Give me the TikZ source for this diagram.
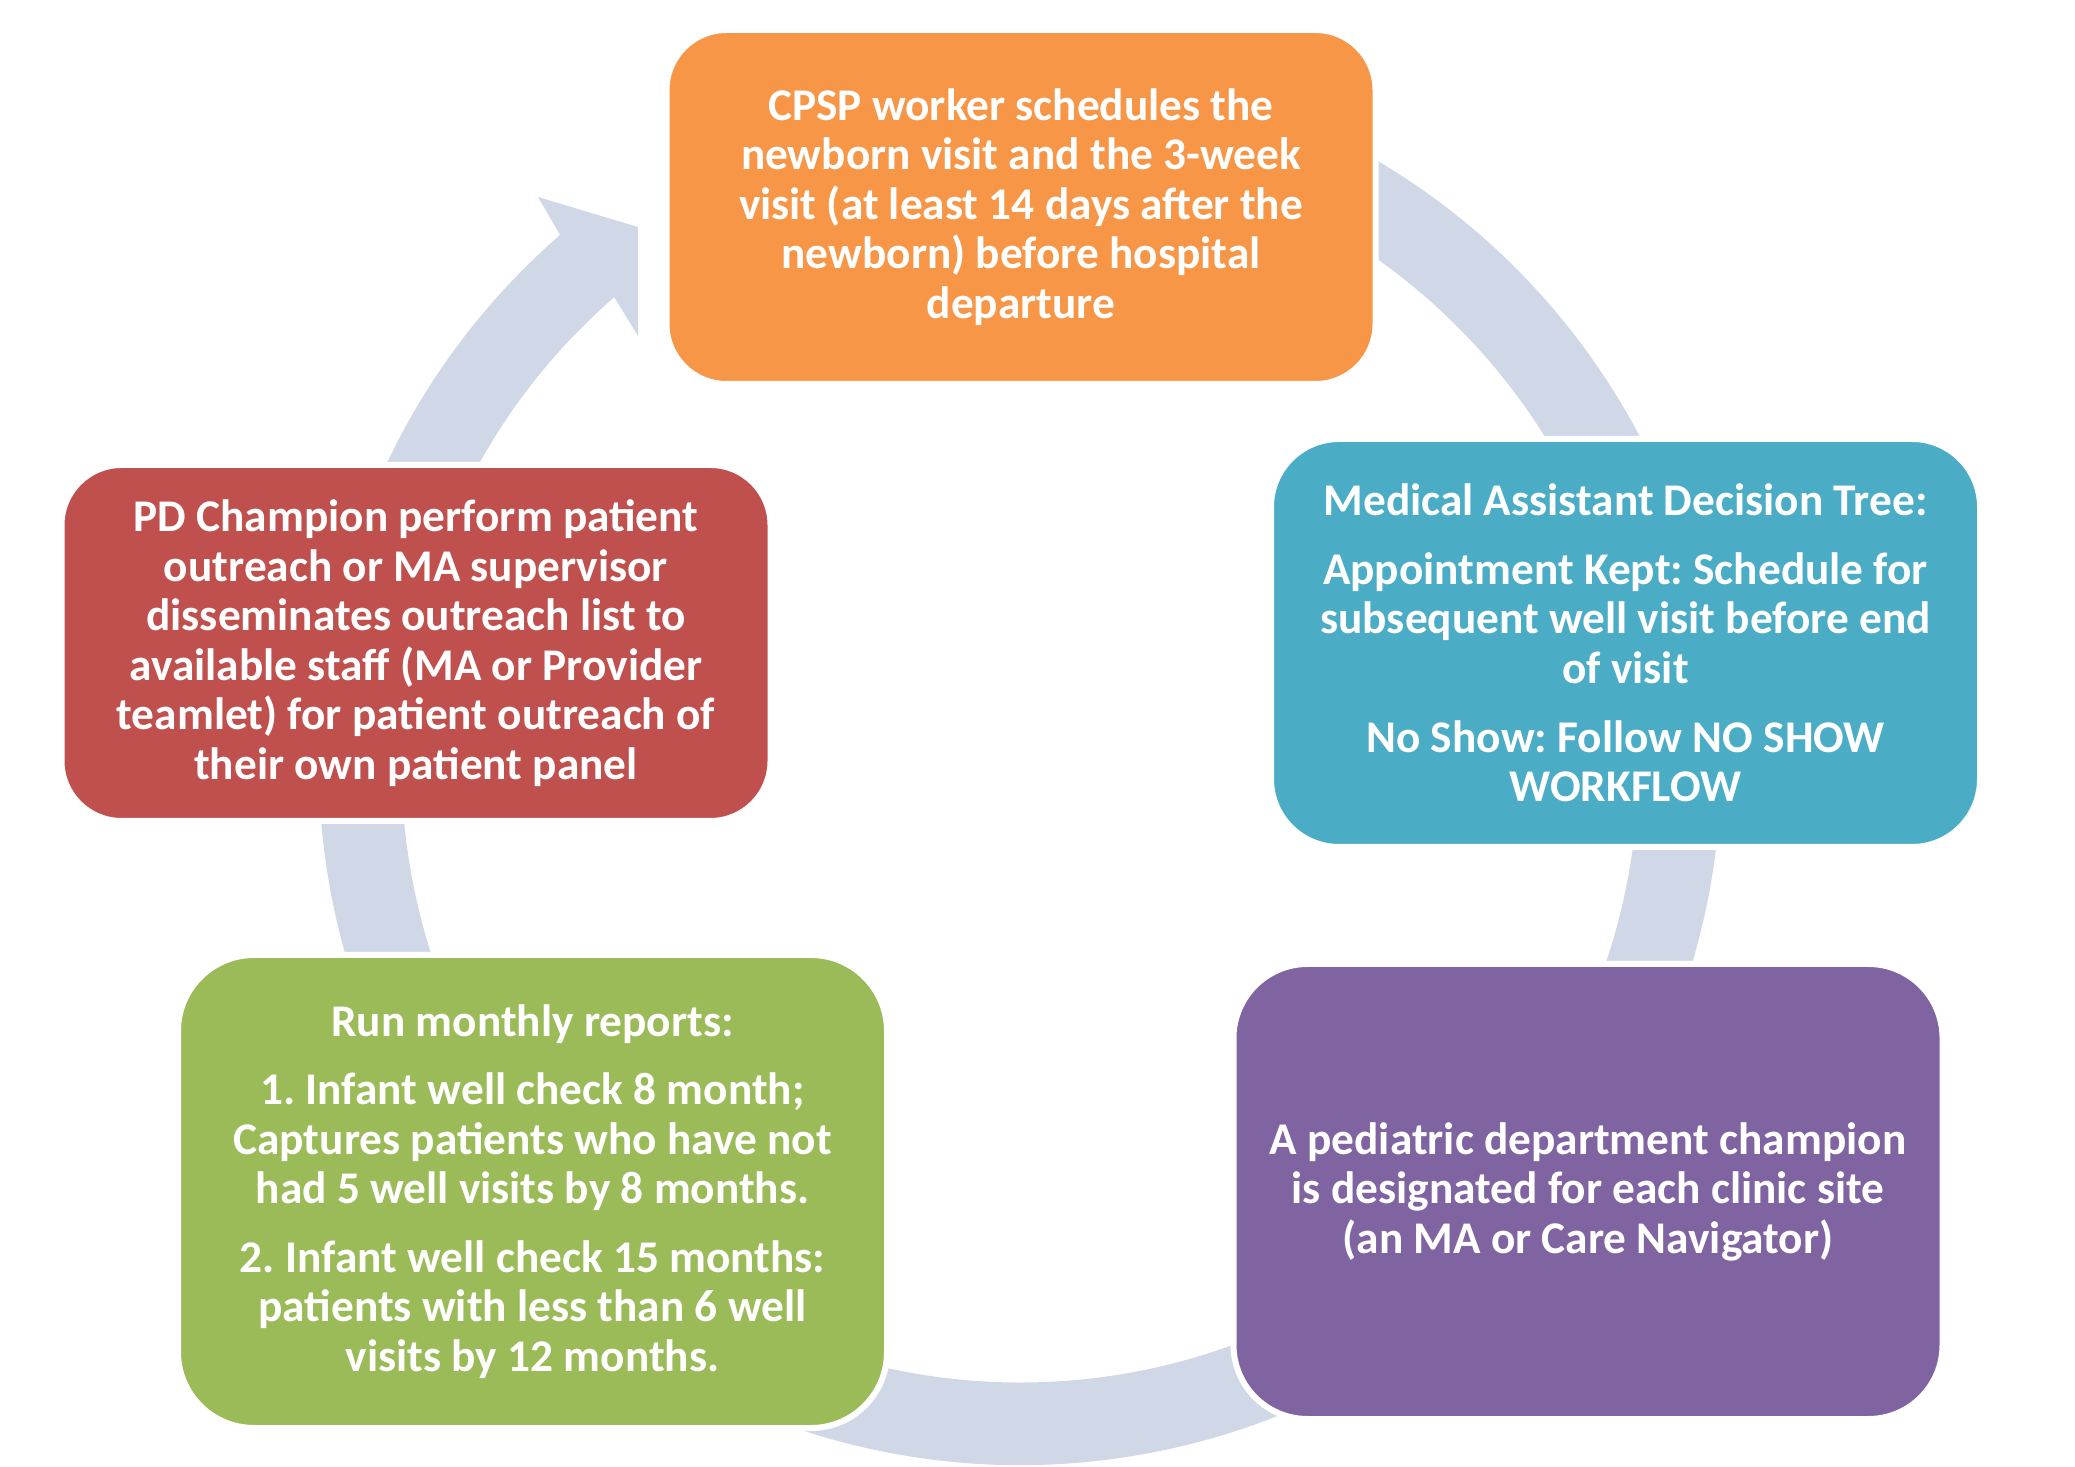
\documentclass[tikz,border=0pt]{standalone}
\usepackage{fontspec}
\setmainfont{Carlito}
\usepackage{tikz}
\usetikzlibrary{calc}
\frenchspacing
\definecolor{ringblue}{HTML}{D0D8E8}
\definecolor{orange}{HTML}{F79646}
\definecolor{teal}{HTML}{4BACC6}
\definecolor{purple}{HTML}{8064A2}
\definecolor{green}{HTML}{9BBB59}
\definecolor{red}{HTML}{C0504D}
\tikzstyle{ring} = [fill=ringblue]
\tikzstyle{stepcell} = [rectangle, draw=white, line width=0.06cm, inner sep=0pt, minimum width=7.09cm, text=white, align=center, font=\fontsize{12.9}{14.1}\selectfont\bfseries]
\tikzstyle{cpspcell} = [stepcell, fill=orange, minimum height=3.54cm, rounded corners=0.6cm]
\tikzstyle{macell} = [stepcell, fill=teal, minimum height=4.08cm, rounded corners=0.68cm]
\tikzstyle{champcell} = [stepcell, fill=purple, minimum height=4.55cm, rounded corners=0.74cm]
\tikzstyle{reportcell} = [stepcell, fill=green, minimum height=4.73cm, rounded corners=0.76cm]
\tikzstyle{outreachcell} = [stepcell, fill=red, minimum height=3.56cm, rounded corners=0.6cm]
\def\pgap{5.4pt}

\begin{document}
\begin{tikzpicture}
\useasboundingbox (0,0) rectangle (20.75,14.66);

% cycle arrow behind the steps
\coordinate (ringc) at (10.20,7.02);
\coordinate (barb) at (5.38,12.69);
\coordinate (tipa) at (6.38,12.39);
\coordinate (tipb) at (6.38,11.30);
\fill[ring] ([shift={(ringc)}]70:7.01) arc[start angle=70, end angle=-229, radius=7.01]
  -- (barb) -- (tipa) -- (tipb)
  -- ([shift={(ringc)}]-229:6.185) arc[start angle=-229, end angle=70, radius=6.185] -- cycle;

% steps of the cycle
\node[cpspcell] (n1) at (10.21,12.59) {CPSP worker schedules the\\ newborn visit and the 3-week\\ visit (at least 14 days after the\\ newborn) before hospital\\ departure};
\node[macell] (n2) at (16.255,8.23) {Medical Assistant Decision Tree:\\[\pgap] Appointment Kept: Schedule for\\ subsequent well visit before end\\ of visit\\[\pgap] No Show: Follow NO SHOW\\ WORKFLOW};
\node[champcell] (n3) at (15.88,2.745) {A pediatric department champion\\ is designated for each clinic site\\ (an MA or Care Navigator)};
\node[reportcell] (n4) at (5.325,2.745) {Run monthly reports:\\[\pgap] 1. Infant well check 8 month;\\ Captures patients who have not\\ had 5 well visits by 8 months.\\[\pgap] 2. Infant well check 15 months:\\ patients with less than 6 well\\ visits by 12 months.};
\node[outreachcell] (n5) at (4.16,8.23) {PD Champion perform patient\\ outreach or MA supervisor\\ disseminates outreach list to\\ available staff (MA or Provider\\ teamlet) for patient outreach of\\ their own patient panel};
\end{tikzpicture}
\end{document}
